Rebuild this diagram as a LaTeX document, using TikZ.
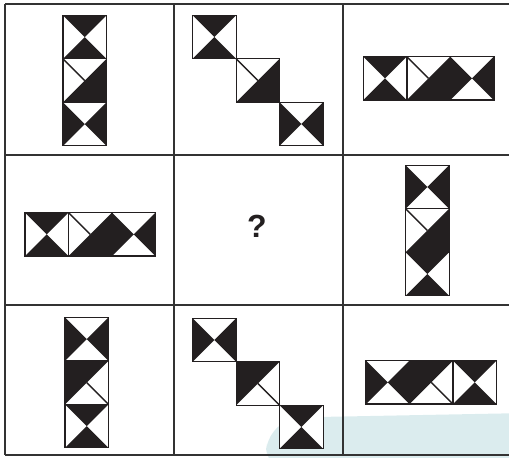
\documentclass[tikz,border=0pt]{standalone}
\usepackage{fontspec}
\setmainfont{Liberation Sans}
\definecolor{ink}{HTML}{231F20}
\definecolor{wash}{RGB}{219,236,238}
\tikzset{
  rim/.style={draw=ink,line width=0.7pt},
  rule/.style={draw=black!80,line width=0.85pt},
  % black top and bottom
  pics/hgl/.style={code={
    \fill[white] (0,0) rectangle (43.5,43.5);
    \fill[ink] (0,0) -- (21.75,21.75) -- (43.5,0) -- cycle
               (0,43.5) -- (21.75,21.75) -- (43.5,43.5) -- cycle;
    \draw[rim] (0,0) rectangle (43.5,43.5);
  }},
  % black left and right
  pics/vgl/.style={code={
    \fill[white] (0,0) rectangle (43.5,43.5);
    \fill[ink] (0,0) -- (21.75,21.75) -- (0,43.5) -- cycle
               (43.5,0) -- (21.75,21.75) -- (43.5,43.5) -- cycle;
    \draw[rim] (0,0) rectangle (43.5,43.5);
  }},
  % black right and bottom, cut top left
  pics/tlcut/.style={code={
    \fill[white] (0,0) rectangle (43.5,43.5);
    \fill[ink] (43.5,0) -- (0,43.5) -- (43.5,43.5) -- cycle;
    \draw[rim] (0,0) -- (21.75,21.75);
    \draw[rim] (0,0) rectangle (43.5,43.5);
  }},
  % black top and left, cut bottom right
  pics/brcut/.style={code={
    \fill[white] (0,0) rectangle (43.5,43.5);
    \fill[ink] (0,0) -- (43.5,0) -- (0,43.5) -- cycle;
    \draw[rim] (21.75,21.75) -- (43.5,43.5);
    \draw[rim] (0,0) rectangle (43.5,43.5);
  }}
}

\begin{document}
\begin{tikzpicture}[x=0.5pt,y=-0.5pt]
\useasboundingbox (0,0) rectangle (509,458);
\begin{scope}
  \clip (0,0) rectangle (509,458);
  \fill[wash] (266,418) [rounded corners=18pt] -- (266,480) -- (580,480) -- (580,412) -- cycle;
\end{scope}
% grid
\foreach \y in {4,155,305} \draw[rule] (5,\y) -- (509,\y);
\draw[rule,line width=1.2pt] (5,455) -- (509,455);
\foreach \x in {5,174,343} \draw[rule] (\x,4) -- (\x,455);
% tiles
\foreach \x/\y in {63/15.3,192.7/15.3,363.3/56.7,25/212.7,405.7/252.3,65/404.3,279.7/405.3,453/360.7}
  \pic at (\x,\y) {hgl};
\foreach \x/\y in {63/102.3,279.7/102.3,450.3/56.7,112/212.7,405.7/165.3,65/317.3,192.7/318.3,366/360.7}
  \pic at (\x,\y) {vgl};
\foreach \x/\y in {63/58.8,236.2/58.8,406.8/56.7,68.5/212.7,405.7/208.8}
  \pic at (\x,\y) {tlcut};
\foreach \x/\y in {65/360.8,236.2/361.8,409.5/360.7}
  \pic at (\x,\y) {brcut};
\node[font=\fontsize{16}{19}\selectfont\bfseries,text=ink] (qmark) at (257,226) {?};
\end{tikzpicture}
\end{document}
